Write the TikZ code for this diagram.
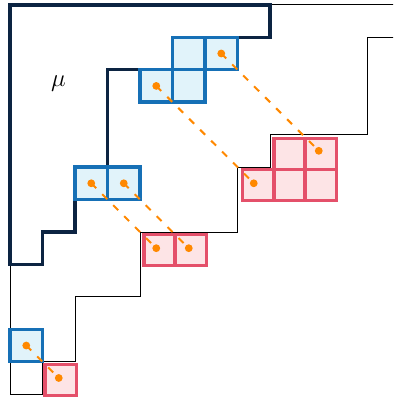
\documentclass[tikz,border=0pt]{standalone}
\usetikzlibrary{calc}
\definecolor{navy}{RGB}{12,36,66}
\definecolor{cellblue}{RGB}{22,112,182}
\definecolor{fillblue}{RGB}{225,243,250}
\definecolor{cellred}{RGB}{228,80,106}
\definecolor{fillred}{RGB}{253,228,230}
\definecolor{dotorange}{RGB}{255,136,0}
\begin{document}
\begin{tikzpicture}[x=32.5pt,y=32.45pt,
  thinline/.style={black,line width=0.9pt},
  muline/.style={navy,line width=3.5pt,line join=miter},
  bluecell/.style={draw=cellblue,fill=fillblue,line width=3.4pt},
  redcell/.style={draw=cellred,fill=fillred,line width=3.4pt},
  link/.style={dotorange,line width=2pt,dash pattern=on 7pt off 8.5pt},
  dotmark/.style={fill=dotorange}]
\useasboundingbox (-0.3077,0.148) rectangle (11.785,-12.117);
\clip (-0.3077,0.148) rectangle (11.785,-12.117);
% outer shape (thin)
\draw[thinline] (0,0) -- (12.5,0) -- (12.5,-1) -- (11,-1) -- (11,-4) -- (8,-4) -- (8,-5) -- (7,-5) -- (7,-7) -- (4,-7) -- (4,-9) -- (2,-9) -- (2,-11) -- (1,-11) -- (1,-12) -- (0,-12) -- cycle;
% mu (thick)
\draw[muline] (0,0) -- (8,0) -- (8,-1) -- (5,-1) -- (5,-2) -- (3,-2) -- (3,-5) -- (2,-5) -- (2,-7) -- (1,-7) -- (1,-8) -- (0,-8) -- cycle;
\node[anchor=base west,inner sep=0pt,font=\Huge] (mu) at (1.26,-2.52) {$\mu$};
% blue cells
\foreach \c/\r in {5/1,6/1,4/2,5/2,2/5,3/5,0/10}
  \draw[bluecell] (\c,-\r) rectangle ++(1,-1);
% red cells
\begin{scope}[shift={(1.2pt,-1.2pt)},scale around={0.96:(10,-6)}]
  \foreach \c/\r in {8/4,9/4,7/5,8/5,9/5}
    \draw[redcell] (\c,-\r) rectangle ++(1,-1);
\end{scope}
\begin{scope}[shift={(1.2pt,-1.2pt)},scale around={0.96:(6,-8)}]
  \foreach \c/\r in {4/7,5/7}
    \draw[redcell] (\c,-\r) rectangle ++(1,-1);
\end{scope}
\begin{scope}[shift={(1.2pt,-1.2pt)},scale around={0.96:(2,-12)}]
  \draw[redcell] (1,-11) rectangle ++(1,-1);
\end{scope}
% links
\coordinate (b1) at (6.5,-1.5);  \coordinate (r1) at (9.5,-4.5);
\coordinate (b2) at (4.5,-2.5);  \coordinate (r2) at (7.5,-5.5);
\coordinate (b3) at (2.5,-5.5);  \coordinate (r3) at (4.5,-7.5);
\coordinate (b4) at (3.5,-5.5);  \coordinate (r4) at (5.5,-7.5);
\coordinate (b5) at (0.5,-10.5); \coordinate (r5) at (1.5,-11.5);
\foreach \i in {1,...,5} \draw[link] (b\i) -- (r\i);
\foreach \p in {b1,b2,b3,b4,b5,r1,r2,r3,r4,r5} \fill[dotmark] (\p) circle (3.9pt);
\end{tikzpicture}
\end{document}
